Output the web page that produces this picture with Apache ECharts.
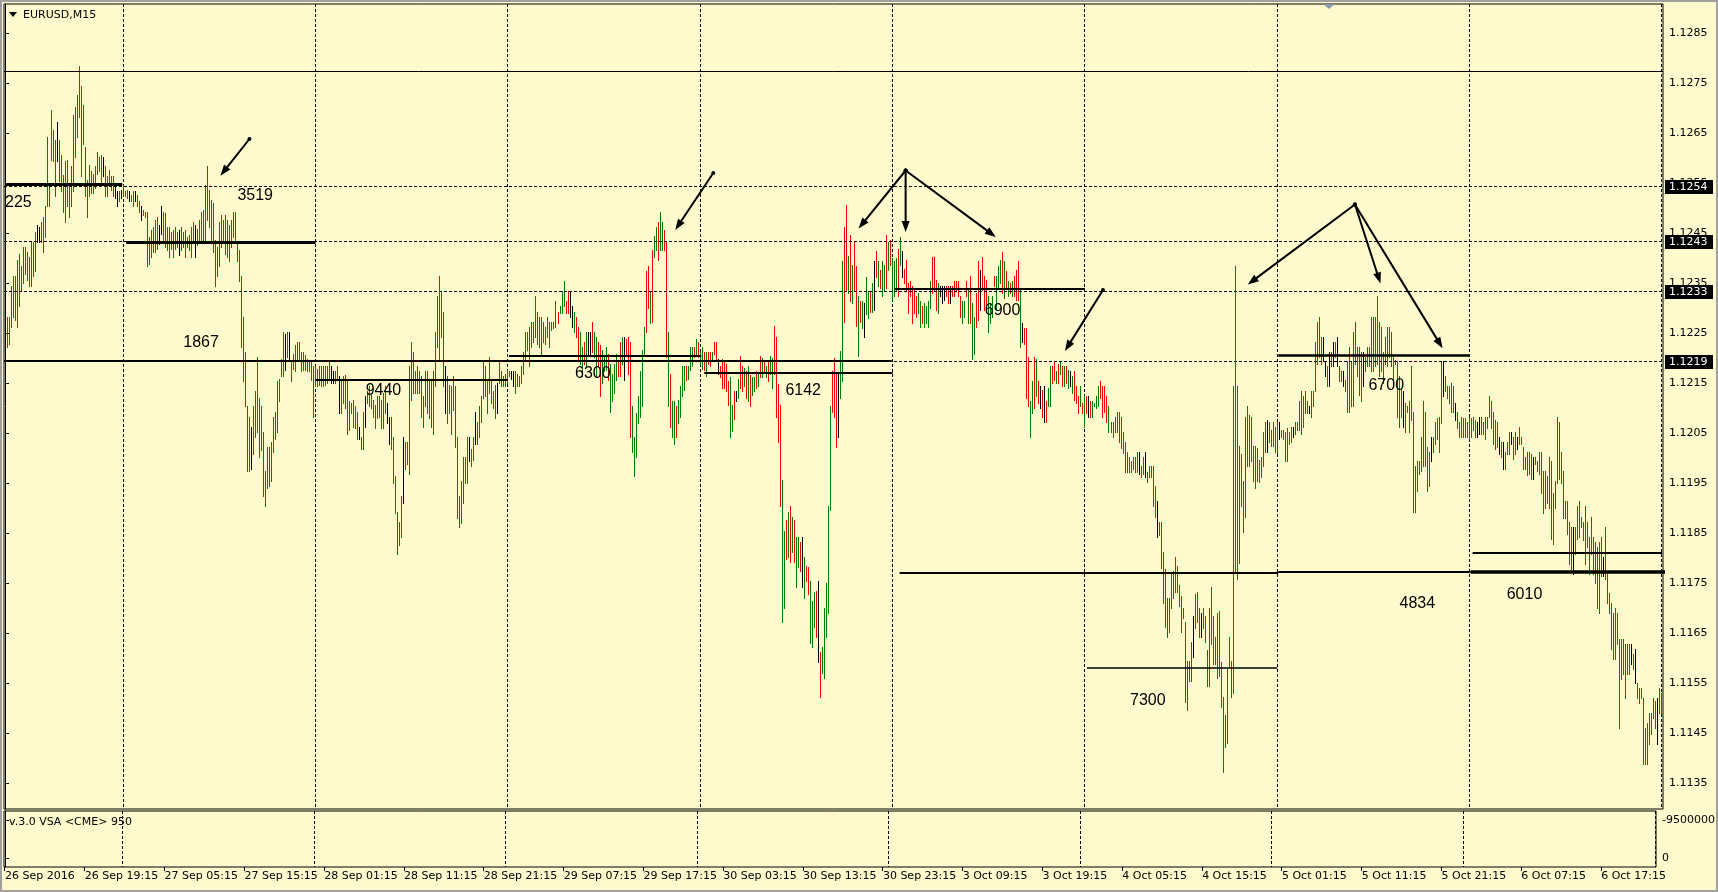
<!DOCTYPE html>
<html><head><meta charset="utf-8">
<script src="https://cdn.jsdelivr.net/npm/echarts@6/dist/echarts.min.js"></script>
<style>html,body{margin:0;padding:0;background:#FFFACD;}#c{width:1718px;height:892px;}</style>
</head><body><div id="c"></div>
<script>
// ---------------- DATA ----------------
// EURUSD M15 bars, high / low in points: price = PRICE_BASE + pts / 100000
const PRICE_BASE = 1.1;
const barHigh = [
2293,2283,2283,2343,2363,2363,2396,2409,2383,2423,2423,2413,2403,2433,2433,2453,2466,2463,2473,2483,
2503,2643,2546,2696,2656,2636,2673,2636,2606,2566,2593,2596,2546,2583,2686,2703,2726,2784,2743,2706,
2623,2556,2586,2573,2569,2583,2613,2603,2606,2603,2583,2563,2576,2563,2563,2543,2533,2533,2536,2546,
2533,2536,2533,2526,2533,2533,2526,2513,2503,2496,2493,2493,2443,2456,2463,2476,2483,2466,2503,2493,
2489,2463,2463,2453,2456,2463,2453,2456,2463,2453,2456,2443,2446,2463,2473,2466,2459,2476,2493,2496,
2546,2584,2536,2516,2509,2436,2423,2473,2486,2476,2486,2476,2466,2476,2493,2493,2433,2416,2363,2283,
2213,2103,2083,2063,2103,2133,2203,2119,2103,2053,1973,2023,2023,2033,2083,2093,2153,2159,2199,2253,
2249,2253,2253,2193,2209,2226,2233,2233,2213,2213,2206,2199,2193,2193,2183,2183,2179,2183,2183,2183,
2183,2183,
2193,2183,2173,2173,2183,2163,2156,2163,2166,2153,2113,2109,2116,2103,2093,2063,2043,2093,2123,2133,
2143,2126,2116,2106,2123,2123,2116,2129,2143,2109,2083,2083,2043,1963,1893,1873,1923,2043,2033,2033,
2183,2233,2213,2173,2183,2173,2163,2123,2173,2173,2156,2153,2173,2253,2323,2363,2333,2293,2183,2163,
2146,2143,2163,2143,2043,1923,1953,2003,2003,2043,2043,2019,2043,2093,2073,2103,2123,2193,2183,2156,
2203,2156,2133,2146,2149,2196,2173,2163,2169,2176,2173,2173,2173,2173,2169,2163,
2183,2213,2253,2253,2263,2273,2273,2323,2293,2283,2283,2273,2263,2283,2273,2273,2273,2313,2293,2303,
2333,2353,2313,2333,2333,2303,2293,2283,2263,2253,2223,2233,2253,2253,2253,2273,2253,2243,2233,2226,
2216,2206,2223,2209,2189,2169,2189,2209,2193,2233,2243,2243,2239,2243,2233,2103,2043,2089,2123,2173,
2216,2263,2373,2383,2333,2416,2444,2463,2473,2493,2473,2456,2433,2253,2169,2113,2113,2103,2116,2143,
2183,2183,2183,2183,2223,2223,2223,2239,2233,2213,2223,2213,2213,2213,2213,2213,2233,
2232,2197,2183,2197,2193,2187,2155,2162,2106,2134,2134,2159,2204,2183,2180,2173,2183,2166,2162,2162,
2173,2169,2204,2200,2193,2183,2193,2204,2200,2264,2243,2148,2106,1956,1854,1875,1893,1903,1882,1875,
1843,1843,1833,1843,1802,1784,1781,1753,1714,1732,1735,1753,1613,1623,1700,1749,1903,2103,2173,2200,
2169,2169,2215,2393,2463,2505,2404,2446,2386,2432,2383,2323,2313,2313,2309,2362,2334,2334,2351,2393,
2414,2393,2376,2393,2386,2446,2432,2435,2400,2393,2400,2418,2442,2414,2379,
2396,2349,2353,2343,2336,2323,2329,2313,2303,2309,2303,2313,2353,2403,2403,2356,2349,2343,2343,2343,
2343,2343,2343,2343,2353,2353,2353,2323,2313,2313,2353,2336,2363,2309,2283,2329,2393,2376,2403,2363,
2356,2323,2309,2323,2363,2363,2383,2396,2413,2393,2373,2353,2349,2353,2363,2376,2393,2336,2269,2259,
2259,2203,2113,2153,2203,2199,2153,2143,2136,2143,2113,2139,2183,2183,2193,2173,2189,2193,2183,2183,
2183,2176,2173,2163,2173,2143,2123,2143,2109,2123,2123,2123,2113,2113,2109,
2123,2144,2154,2144,2144,2123,2103,2072,2072,2082,2093,2093,2082,2051,2031,2013,2003,1993,2003,2003,
2013,2013,1983,2003,2013,1972,1983,1983,1983,1945,1914,1873,1873,1811,1777,1721,1721,1770,1773,1801,
1783,1746,1725,1701,1673,1594,1594,1632,1684,1728,1732,1701,1691,1701,1684,1615,1701,1742,1684,1643,
1691,1694,1591,1522,1485,1577,1643,1594,2144,2384,2144,2024,2007,1955,2082,2103,2086,2082,2024,2024,
2020,1996,2003,2051,2072,2075,2072,2055,2072,2061,2072,2072,2055,2055,2051,
2059,2053,2063,2063,2073,2073,2113,2133,2123,2133,2113,2103,2133,2133,2233,2273,2283,2243,2243,2193,
2183,2213,2213,2233,2233,2243,2183,2173,2173,2156,2193,2223,2193,2253,2273,2223,2223,2213,2213,2203,
2223,2223,2283,2283,2283,2323,2273,2263,2213,2243,2263,2263,2253,2203,2196,2193,2163,2139,2133,2109,
2103,2113,2183,2093,1983,1993,1993,2043,2113,2093,2023,2013,2043,2043,2073,2079,2083,2193,2193,2163,
2143,2143,2149,2143,2109,2093,2073,2083,2079,2079,2073,2083,2079,2083,2076,
2073,2083,2083,2073,2083,2083,2123,2113,2093,2076,2073,2043,2033,2033,2013,2033,2053,2053,2043,2053,
2043,2063,2043,2023,2003,2013,2013,2009,2003,2003,1993,2013,2013,1973,1973,1963,2003,1993,1929,1953,
2083,2073,2013,1973,1913,1913,1873,1863,1863,1863,1903,1913,1883,1873,1903,1873,1843,1883,1843,1833,
1823,1833,1843,1803,1863,1769,1729,1709,1689,1699,1689,1639,1639,1639,1629,1629,1629,1629,1609,1619,
1549,1539,1539,1519,1459,1469,1489,1489,1519,1513,1519,1539,1529,1489
];
const barLow = [
2229,2223,2229,2263,2283,2276,2263,2303,2336,2349,2369,2356,2343,2343,2363,2373,2433,2433,2433,2413,
2443,2503,2503,2596,2593,2523,2593,2553,2533,2493,2473,2503,2483,2503,2533,2603,2643,2683,2563,2629,
2523,2483,2523,2529,2529,2539,2569,2573,2543,2563,2523,2523,2543,2536,2523,2519,2503,2513,2519,2523,
2523,2519,2513,2513,2503,2513,2503,2493,2476,2486,2483,2383,2389,2403,2413,2413,2419,2429,2449,2433,
2423,2416,2403,2419,2403,2419,2423,2406,2416,2423,2403,2423,2416,2403,2433,2403,2426,2436,2433,2433,
2433,2476,2463,2436,2413,2343,2363,2383,2423,2433,2409,2403,2393,2423,2443,2433,2393,2353,2223,2153,
2103,1973,1973,1979,2009,2043,2053,2003,2016,1923,1903,1939,1943,1953,2013,2039,2053,2113,2163,2163,
2176,2203,2199,2153,2179,2173,2199,2193,2173,2176,2176,2173,2173,2156,2083,2143,2143,2146,2143,2143,
2146,2149,
2156,2149,2149,2149,2156,2089,2089,2109,2099,2049,2056,2089,2063,2059,2039,2039,2019,2019,2063,2109,
2103,2099,2083,2059,2079,2083,2059,2059,2089,2069,2029,2019,1949,1889,1809,1826,1843,1909,1979,1989,
1969,2116,2129,2129,2129,2129,2083,2063,2103,2089,2079,2063,2049,2143,2223,2196,2243,2143,2089,2069,
2089,2049,2096,2023,1879,1863,1869,1909,1949,1949,1993,1983,1996,2029,2029,2043,2073,2119,2123,2089,
2129,2109,2099,2079,2089,2149,2143,2143,2143,2149,2163,2159,2143,2129,2143,2143,
2149,2169,2196,2216,2183,2223,2233,2243,2229,2223,2209,2233,2229,2243,2223,2256,2259,2263,2269,2289,
2289,2303,2289,2289,2283,2263,2253,2243,2196,2189,2163,2189,2183,2209,2209,2213,2203,2163,2183,2123,
2149,2173,2176,2156,2093,2113,2129,2156,2163,2163,2189,2156,2209,2169,2043,2013,1963,2003,2069,2083,
2103,2209,2253,2299,2269,2273,2403,2416,2396,2416,2416,2416,2203,2103,2063,2043,2029,2043,2069,2083,
2123,2136,2156,2159,2176,2183,2203,2209,2203,2189,2179,2176,2163,2189,2183,2196,2209,
2197,2169,2162,2141,2141,2134,2106,2043,2054,2078,2113,2120,2141,2134,2145,2120,2113,2103,2127,2134,
2141,2145,2162,2162,2173,2162,2155,2169,2141,2169,2082,2033,1903,1672,1700,1798,1802,1791,1812,1791,
1742,1781,1774,1742,1721,1753,1728,1630,1623,1662,1641,1592,1522,1571,1560,1641,1690,1896,2092,2082,
2022,2043,2120,2155,2271,2334,2330,2313,2309,2337,2264,2204,2271,2260,2243,2288,2281,2292,2292,2295,
2362,2344,2341,2323,2337,2341,2376,2386,2316,2323,2337,2323,2386,2362,2351,
2333,2289,2323,2269,2289,2283,2289,2263,2269,2263,2269,2263,2299,2329,2336,2296,2289,2323,2309,2316,
2323,2309,2309,2323,2323,2336,2323,2283,2269,2283,2323,2269,2269,2199,2209,2263,2276,2296,2336,2296,
2296,2253,2269,2283,2343,2296,2339,2349,2329,2319,2339,2323,2329,2323,2323,2316,2316,2223,2233,2229,
2119,2103,2043,2089,2099,2123,2109,2099,2083,2073,2073,2103,2103,2149,2156,2149,2149,2169,2143,2143,
2149,2139,2143,2129,2116,2109,2089,2103,2089,2063,2089,2083,2083,2083,2103,
2099,2103,2120,2082,2093,2072,2051,2051,2041,2051,2051,2031,2020,2010,1972,1972,1972,1972,1979,1972,
1972,1969,1962,1969,1962,1952,1962,1962,1904,1883,1842,1845,1780,1711,1663,1643,1653,1701,1721,1732,
1732,1704,1653,1680,1512,1495,1553,1553,1601,1660,1673,1643,1643,1660,1632,1543,1543,1629,1588,1588,
1560,1564,1502,1371,1423,1430,1581,1522,1529,1770,1759,1790,1904,1852,1883,1983,1983,1993,1955,1941,
1955,1952,1962,1983,2013,2013,2031,2024,2024,2013,2010,2038,2041,2038,1993,
1993,2029,2033,2043,2049,2056,2056,2049,2063,2089,2089,2089,2083,2103,2133,2189,2203,2189,2193,2163,
2143,2143,2183,2183,2203,2183,2153,2153,2143,2133,2093,2093,2103,2103,2189,2163,2126,2113,2143,2173,
2183,2183,2173,2173,2183,2189,2163,2173,2149,2189,2183,2203,2183,2143,2189,2083,2063,2083,2063,2053,
2093,2053,2076,1893,1893,1933,1969,1973,1983,1983,1933,1943,1993,2013,2029,2039,2013,2069,2123,2133,
2119,2109,2093,2093,2076,2059,2043,2043,2043,2043,2043,2039,2043,2056,2043,
2043,2049,2049,2049,2039,2059,2083,2059,2029,2019,2023,2009,2003,1979,1979,2009,2009,2029,1999,2009,
2019,2029,2029,1979,1979,1966,1969,1959,1959,1989,1973,1969,1929,1889,1899,1909,1899,1839,1829,1899,
1949,1959,1949,1879,1879,1849,1789,1779,1769,1809,1839,1843,1863,1836,1789,1823,1769,1809,1769,1749,
1699,1689,1763,1763,1759,1709,1689,1619,1599,1599,1629,1459,1559,1569,1519,1569,1569,1589,1579,1549,
1519,1509,1519,1389,1389,1389,1429,1449,1479,1459,1429,1489,1489,1429
];
// bar direction: g = close above open, r = close below open, k = unchanged
const barDir =
  "krrgrrggggrgrgggkkrggggrrgkrrgrgrggrgrrrrrgrrggrgkrrgrrkkgkrrrkrrkrrkgrrgrgrgkkgrgrgrgrkgrrrgrgkgrgggrrrrrggrgrrgrgrrrrrrrrkgggrrrggrgggggggkrkgrggrrgrrrrgrrgrrg" +
  "rgkkgrkrgrggrrrrkggkrrrgrgrgrrkkrgrgggkrggrrgrrggrrgggggrrrkrrgrrrggggrkggkgggrgrrrggkrgggrrkkgg" +
  "ggggrggggrggrrgrgggrgggrrkkgrrggrgkkrggrrgggrggggrrgkrrrgggggggrrgrggrggrrgrggrggggrgggrgrggrgrrg" +
  "rrkrrrrrggrkgrrgrgrggrgrgrgrggrrrrggrgrgrggrkgrrgggrkrgggggrrrkggrrgrgrrgrgkggrgkrgrggrgrgggrgk" +
  "rrrrrrrggrggggrrrgkkkrrkrrrrrggrgrggrrkrrrgggrgggrgrgrgrrrgkrrrggrgrkrkrggrrgrgrgrgkgrrrgrgrkrg" +
  "gggrrrrgggrgrrrrggggrgkrrkggrrrkrrrrggggrrrgrggggkrgrkrrgrrrrrrrggrrggrgrrgrgrrrrgggggkrgrrgkrg" +
  "grgrkgggggrgkgggrgrkkgkgkrkgrkgggrggrrgkgggrgrrgrgrgrrrgrgrkrrrrggrggrrggkgrggrkrrgrrkgrgrggrgr" +
  "rkkrgggrrgrgkrkrggkrgkrrrgrgrkrgrrgrgrgggrrrgrrggkgrgrgrrrgrrggrkrrrrgrrggggrrkrkrgrgggggrgkgr";
// x-axis time labels (bar index -> label)
const timeLabelIndex = [0,40,80,120,160,200,240,280,320,360,400,440,480,520,560,600,640,680,720,760,800];
const timeLabels = ['26 Sep 2016','26 Sep 19:15','27 Sep 05:15','27 Sep 15:15','28 Sep 01:15','28 Sep 11:15',
  '28 Sep 21:15','29 Sep 07:15','29 Sep 17:15','30 Sep 03:15','30 Sep 13:15','30 Sep 23:15','3 Oct 09:15',
  '3 Oct 19:15','4 Oct 05:15','4 Oct 15:15','5 Oct 01:15','5 Oct 11:15','5 Oct 21:15','6 Oct 07:15','6 Oct 17:15'];
// day separators (bar index of 00:00)
const dayStartIndex = [59,155,251,347,443,539,635,731,827];
// price axis ticks
const priceTicks = [1.1135,1.1145,1.1155,1.1165,1.1175,1.1185,1.1195,1.1205,1.1215,1.1225,1.1235,1.1245,1.1255,1.1265,1.1275,1.1285];
const volumeTicks = [-9500000, 0];
// horizontal line objects
const taggedLevels = [1.12543, 1.12433, 1.12334, 1.12193];
const plainLevels = [1.12773];
// level segments: [from bar, to bar, price]
const levelSegments = [
  [0.5, 58.5, 1.12547], [60.5, 155, 1.12431], [-0.5, 442.5, 1.12194], [155, 251, 1.12156],
  [251.5, 347.5, 1.12205], [349, 443, 1.12171], [444, 539, 1.12338], [446.5, 635.5, 1.11771],
  [635.5, 731.5, 1.11773], [731.5, 828.5, 1.11772], [732.5, 827, 1.11811], [540, 635, 1.1158],
  [635.5, 731, 1.12205]
];
// annotations: [bar, price] and texts
const notePos = [[0,1.12510],[116,1.12524],[89,1.12230],[180,1.12134],[284.5,1.12169],[389.5,1.12134],
  [489,1.12295],[561.5,1.11515],[680.5,1.12144],[696,1.11708],[749.5,1.11726]];
const noteText = ['225','3519','1867','9440','6300','6142','6900','7300','6700','4834','6010'];
// arrows: [from bar, from price, to bar, to price]
const arrowLines = [
  [122,1.12638,107.5,1.125646],[353.5,1.1257,334.5,1.12456],
  [449.5,1.12575,426,1.12459],[449.5,1.12575,449.5,1.12452],[449.5,1.12575,494.5,1.12442],
  [548,1.12336,529,1.12214],
  [673.75,1.12507,620.25,1.12347],[673.75,1.12507,686.5,1.12349],[673.75,1.12507,717.5,1.122194]
];

// ---------------- STYLE ----------------
const SEG_WIDTH = [3,3,2,2,2,2,2,2,2,3.5,2,1.5,2.5];
const BAR_COLORS = ['#008000','#ff0000','#000000'];
const DIR_CODE = {g:0, r:1, k:2};
const UI_FONT = '"DejaVu Sans", Verdana, sans-serif';
const NOTE_FONT = '16px "Liberation Sans", Arial, sans-serif';
const BG = '#FFFACD';

const N = Math.min(barHigh.length, barLow.length, barDir.length);
const X_MIN = -0.5, X_MAX = N - 0.5;
const Y_MIN = 1.11298, Y_MAX = 1.12908;
const toPrice = p => PRICE_BASE + p / 100000;
const bars = [];
for (let i = 0; i < N; i++) bars.push([i, toPrice(barHigh[i]), toPrice(barLow[i]), DIR_CODE[barDir[i]]]);

function crisp(v, w) { return (Math.round(w) % 2 === 1) ? Math.floor(v) + 0.5 : Math.round(v); }

const chart = echarts.init(document.getElementById('c'), null, {renderer: 'canvas', width: 1718, height: 892});

function dayLineItem(params, api) {
  const cs = params.coordSys; const p = api.coord([api.value(0), api.value(1)]);
  const x = crisp(p[0], 1);
  return {type: 'line', shape: {x1: x, y1: cs.y, x2: x, y2: cs.y + cs.height},
    style: {stroke: '#000', lineWidth: 1, lineDash: [3, 2]}};
}

const option = {
  animation: false,
  backgroundColor: BG,
  textStyle: {fontFamily: UI_FONT},
  grid: [
    {left: 4, top: 4, width: 1659, height: 805, show: true, borderColor: '#000', borderWidth: 1, backgroundColor: 'transparent'},
    {left: 4, top: 811, width: 1659, height: 56, show: true, borderColor: '#000', borderWidth: 1, backgroundColor: 'transparent'}
  ],
  xAxis: [
    {type: 'value', gridIndex: 0, min: X_MIN, max: X_MAX, show: false, splitLine: {show: false}},
    {type: 'value', gridIndex: 1, min: X_MIN, max: X_MAX, splitLine: {show: false}, minorTick: {show: false},
     axisLine: {show: false},
     axisTick: {show: false},
     axisLabel: {show: true, customValues: timeLabelIndex, align: 'left', margin: 4, color: '#000',
       fontSize: 11, fontFamily: UI_FONT,
       formatter: v => { const k = timeLabelIndex.indexOf(Math.round(v)); return k >= 0 ? timeLabels[k] : ''; }}}
  ],
  yAxis: [
    {type: 'value', gridIndex: 0, position: 'right', min: Y_MIN, max: Y_MAX, splitLine: {show: false},
     axisLine: {show: true, lineStyle: {color: '#000', width: 1}},
     axisTick: {show: true, customValues: priceTicks, length: 4, lineStyle: {color: '#000'}},
     axisLabel: {show: true, customValues: priceTicks, margin: 6, color: '#000', fontSize: 11, fontFamily: UI_FONT,
       formatter: v => v.toFixed(4)}},
    {type: 'value', gridIndex: 1, position: 'right', inverse: true, min: -11750000, max: 2250000, splitLine: {show: false},
     axisLine: {show: true, lineStyle: {color: '#000', width: 1}},
     axisTick: {show: true, customValues: volumeTicks, length: 4, lineStyle: {color: '#000'}},
     axisLabel: {show: true, customValues: volumeTicks, margin: 6, color: '#000', fontSize: 11, fontFamily: UI_FONT,
       formatter: v => String(Math.round(v))}}
  ],
  series: [
    { // day separators, main panel
      type: 'custom', xAxisIndex: 0, yAxisIndex: 0, z: 1, silent: true,
      data: dayStartIndex.map(d => [d, Y_MIN]), encode: {x: 0, y: 1}, renderItem: dayLineItem
    },
    { // day separators, indicator panel
      type: 'custom', xAxisIndex: 1, yAxisIndex: 1, z: 1, silent: true,
      data: dayStartIndex.map(d => [d, 0]), encode: {x: 0, y: 1}, renderItem: dayLineItem
    },
    { // time label ticks below the indicator panel
      type: 'custom', xAxisIndex: 1, yAxisIndex: 1, z: 1, silent: true, clip: false,
      data: timeLabelIndex.map(d => [d, 0]), encode: {x: 0, y: 1},
      renderItem: (params, api) => {
        const cs = params.coordSys; const p = api.coord([api.value(0), api.value(1)]);
        const x = crisp(p[0], 1); const yb = cs.y + cs.height;
        return {type: 'line', shape: {x1: x, y1: yb, x2: x, y2: yb + 4}, style: {stroke: '#000', lineWidth: 1}};
      }
    },
    { // tagged dashed horizontal lines with price tags
      type: 'custom', xAxisIndex: 0, yAxisIndex: 0, z: 3, silent: true, clip: false,
      data: taggedLevels.map(p => [0, p]), encode: {x: 0, y: 1},
      renderItem: (params, api) => {
        const cs = params.coordSys; const price = api.value(1);
        const p = api.coord([0, price]); const y = crisp(p[1], 1); const right = cs.x + cs.width;
        return {type: 'group', children: [
          {type: 'line', shape: {x1: cs.x, y1: y, x2: right, y2: y}, style: {stroke: '#000', lineWidth: 1, lineDash: [3, 2]}},
          {type: 'rect', shape: {x: right + 2, y: Math.round(y) - 7, width: 48, height: 14}, style: {fill: '#000'}},
          {type: 'text', style: {x: right + 6, y: Math.round(y), text: price.toFixed(4), fill: '#fff',
            font: '11px ' + UI_FONT, align: 'left', verticalAlign: 'middle'}}
        ]};
      }
    },
    { // plain full width line
      type: 'custom', xAxisIndex: 0, yAxisIndex: 0, z: 3, silent: true,
      data: plainLevels.map(p => [0, p]), encode: {x: 0, y: 1},
      renderItem: (params, api) => {
        const cs = params.coordSys; const p = api.coord([0, api.value(1)]); const y = crisp(p[1], 1);
        return {type: 'line', shape: {x1: cs.x, y1: y, x2: cs.x + cs.width, y2: y}, style: {stroke: '#000', lineWidth: 1}};
      }
    },
    { // price bars
      type: 'custom', xAxisIndex: 0, yAxisIndex: 0, z: 2, silent: true,
      data: bars, encode: {x: 0, y: [1, 2]},
      renderItem: (params, api) => {
        const i = api.value(0);
        const a = api.coord([i, api.value(1)]); const b = api.coord([i, api.value(2)]);
        const x = Math.floor(a[0]) + 0.5;
        return {type: 'line', shape: {x1: x, y1: Math.round(a[1]), x2: x, y2: Math.round(b[1]) + 1},
          style: {stroke: BAR_COLORS[api.value(3)], lineWidth: 1}};
      }
    },
    { // level segments
      type: 'custom', xAxisIndex: 0, yAxisIndex: 0, z: 4, silent: true,
      data: levelSegments, encode: {x: [0, 1], y: 2},
      renderItem: (params, api) => {
        const w = SEG_WIDTH[params.dataIndex];
        const a = api.coord([api.value(0), api.value(2)]); const b = api.coord([api.value(1), api.value(2)]);
        const y = crisp(a[1], w);
        return {type: 'line', shape: {x1: a[0], y1: y, x2: b[0], y2: y}, style: {stroke: '#000', lineWidth: w}};
      }
    },
    { // arrows
      type: 'custom', xAxisIndex: 0, yAxisIndex: 0, z: 5, silent: true,
      data: arrowLines, encode: {x: [0, 2], y: [1, 3]},
      renderItem: (params, api) => {
        const a = api.coord([api.value(0), api.value(1)]); const b = api.coord([api.value(2), api.value(3)]);
        const dx = b[0] - a[0], dy = b[1] - a[1], L = Math.hypot(dx, dy) || 1, ux = dx / L, uy = dy / L;
        const hl = 11, hw = 4;
        const base = [b[0] - ux * hl, b[1] - uy * hl];
        const l = [base[0] - uy * hw, base[1] + ux * hw], r = [base[0] + uy * hw, base[1] - ux * hw];
        return {type: 'group', children: [
          {type: 'line', shape: {x1: a[0], y1: a[1], x2: base[0] + ux * 2, y2: base[1] + uy * 2}, style: {stroke: '#000', lineWidth: 2}},
          {type: 'polygon', shape: {points: [b, l, r]}, style: {fill: '#000'}},
          {type: 'circle', shape: {cx: a[0], cy: a[1], r: 2}, style: {fill: '#000'}}
        ]};
      }
    },
    { // annotation numbers
      type: 'custom', xAxisIndex: 0, yAxisIndex: 0, z: 6, silent: true, clip: false,
      data: notePos, encode: {x: 0, y: 1},
      renderItem: (params, api) => {
        const p = api.coord([api.value(0), api.value(1)]);
        return {type: 'text', style: {x: p[0], y: p[1], text: noteText[params.dataIndex], fill: '#000',
          font: NOTE_FONT, align: 'left', verticalAlign: 'middle'}};
      }
    }
  ],
  graphic: [
    {type: 'rect', silent: true, z: 100, shape: {x: 1, y: 1, width: 1716, height: 890}, style: {fill: 'none', stroke: '#a0a0a0', lineWidth: 2}},
    {type: 'polygon', silent: true, z: 100, shape: {points: [[9, 12], [17, 12], [13, 17]]}, style: {fill: '#000'}},
    {type: 'text', silent: true, z: 100, style: {x: 23, y: 15, text: 'EURUSD,M15', fill: '#000', font: '11px ' + UI_FONT, verticalAlign: 'middle'}},
    {type: 'text', silent: true, z: 100, style: {x: 9, y: 822, text: 'v.3.0 VSA <CME> 950', fill: '#000', font: '11px ' + UI_FONT, verticalAlign: 'middle'}},
    {type: 'polygon', silent: true, z: 100, shape: {points: [[1323, 4], [1335, 4], [1329, 9]]}, style: {fill: '#8899aa'}}
  ]
};
chart.setOption(option);
</script>
</body></html>
